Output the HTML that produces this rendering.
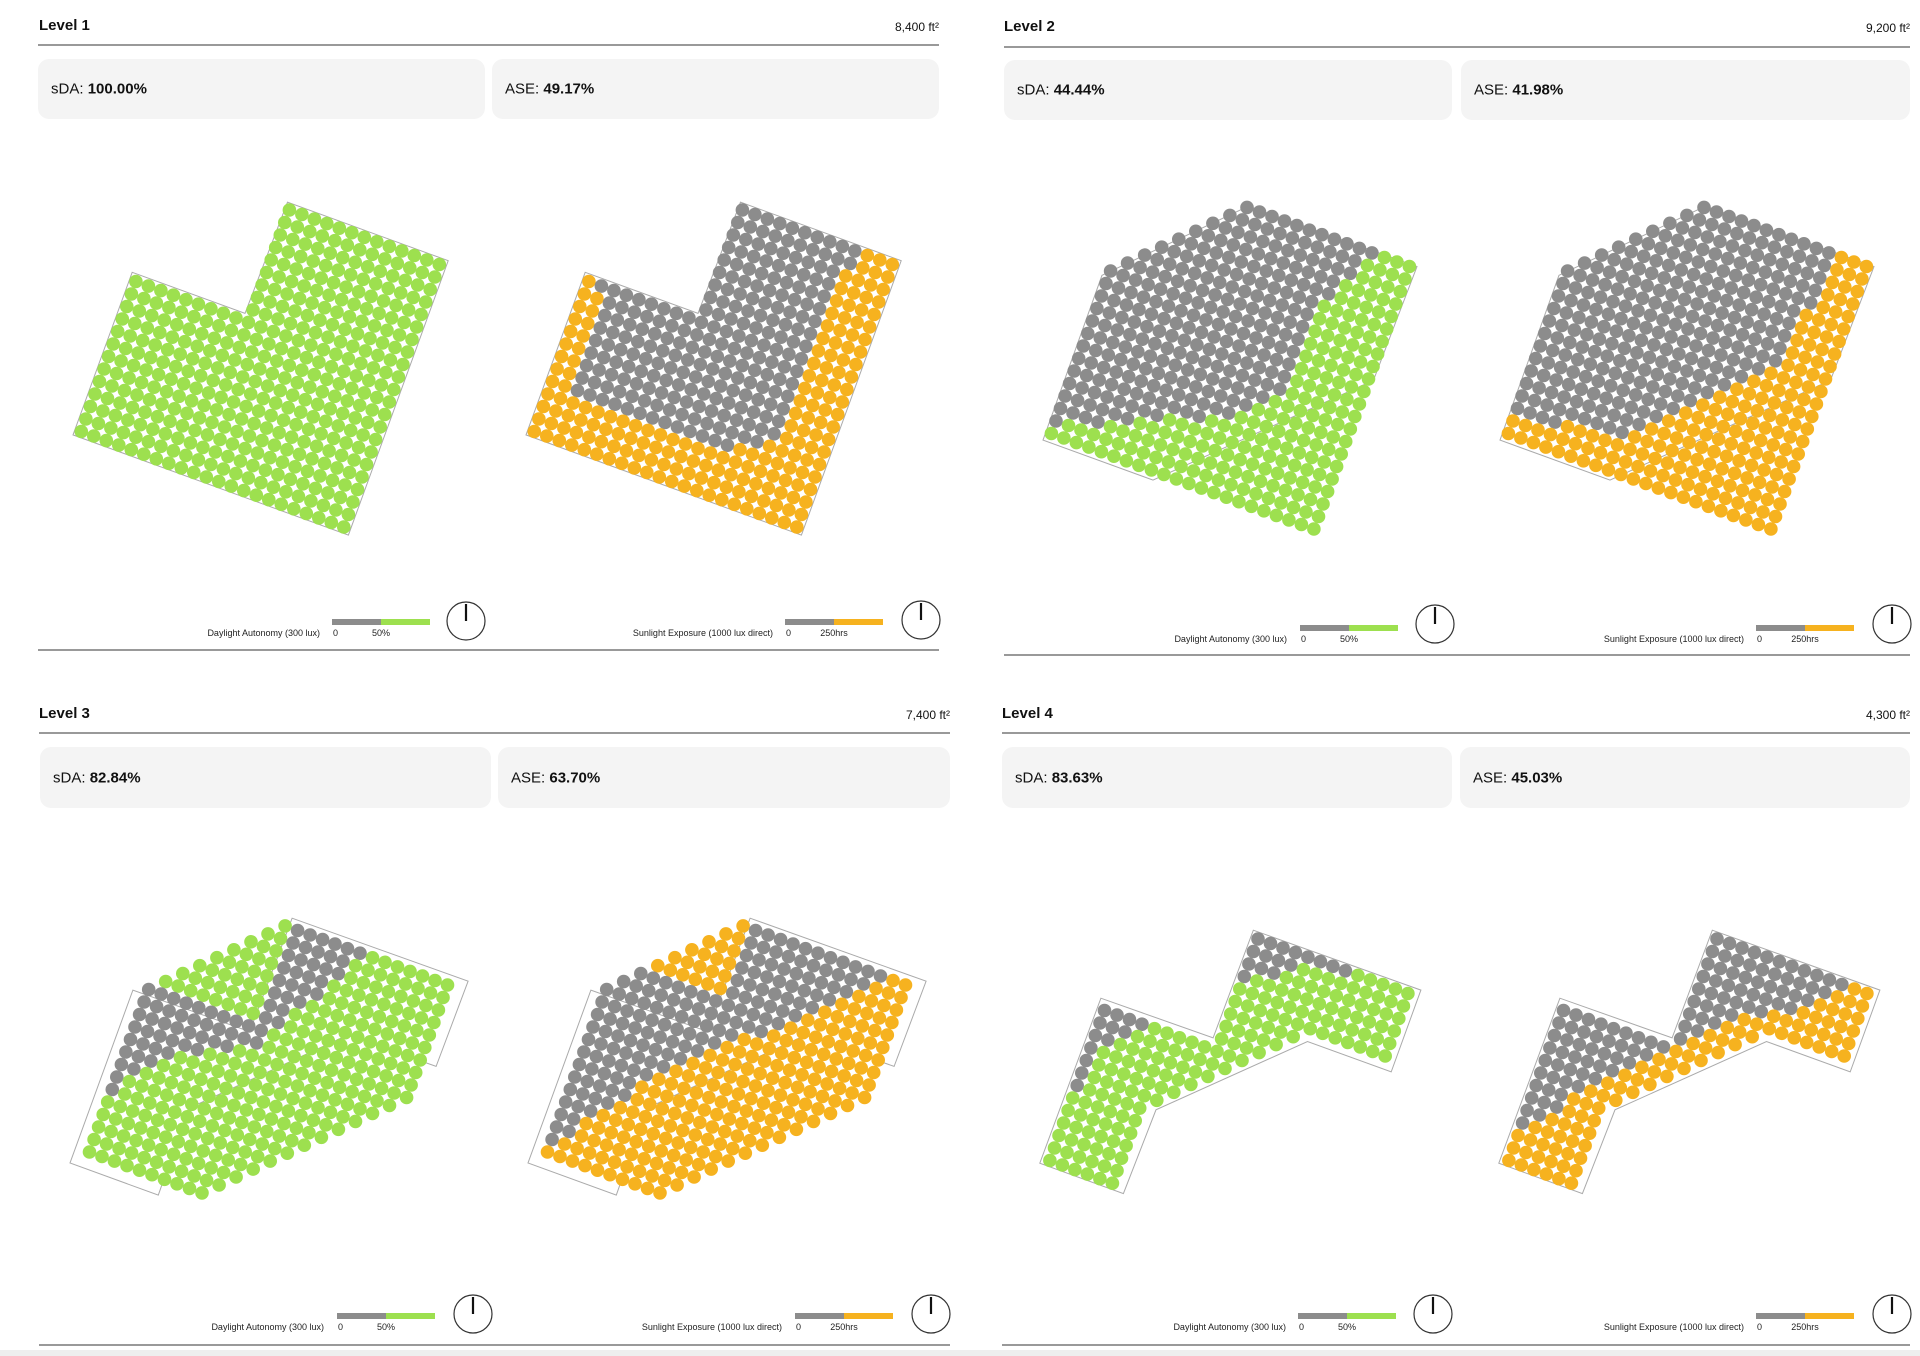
<!DOCTYPE html>
<html><head><meta charset="utf-8">
<style>
html,body{margin:0;padding:0;background:#fff;}
body{width:1920px;height:1356px;position:relative;overflow:hidden;font-family:"Liberation Sans",Arial,sans-serif;color:#111;}
.title{position:absolute;font-size:15px;font-weight:bold;line-height:18px;}
.area{position:absolute;font-size:12px;line-height:14px;text-align:right;width:200px;}
.hr{position:absolute;height:2px;background:#999;}
.box{position:absolute;background:#f4f4f4;border-radius:11px;font-size:15px;}
.box span.lbl{position:absolute;left:13px;top:50%;transform:translateY(-50%);white-space:nowrap;}
.box b{font-weight:bold;}
svg{position:absolute;left:0;top:0;}
.foot{position:absolute;left:0;top:1350px;width:1920px;height:6px;background:#eee;}
</style></head>
<body>

<div class="title" style="left:39px;top:17px">Level 1</div>
<div class="area" style="left:739px;top:20px">8,400 ft²</div>
<div class="hr" style="left:38px;top:44px;width:901px"></div>
<div class="box" style="left:38px;top:59px;width:447px;height:60px"><span class="lbl">sDA: <b>100.00%</b></span></div>
<div class="box" style="left:492px;top:59px;width:447px;height:60px"><span class="lbl">ASE: <b>49.17%</b></span></div>
<div class="hr" style="left:38px;top:649px;width:901px"></div>

<div class="title" style="left:1004px;top:18px">Level 2</div>
<div class="area" style="left:1710px;top:21px">9,200 ft²</div>
<div class="hr" style="left:1004px;top:46px;width:906px"></div>
<div class="box" style="left:1004px;top:60px;width:448px;height:60px"><span class="lbl">sDA: <b>44.44%</b></span></div>
<div class="box" style="left:1461px;top:60px;width:449px;height:60px"><span class="lbl">ASE: <b>41.98%</b></span></div>
<div class="hr" style="left:1004px;top:654px;width:906px"></div>

<div class="title" style="left:39px;top:705px">Level 3</div>
<div class="area" style="left:750px;top:708px">7,400 ft²</div>
<div class="hr" style="left:39px;top:732px;width:911px"></div>
<div class="box" style="left:40px;top:747px;width:451px;height:61px"><span class="lbl">sDA: <b>82.84%</b></span></div>
<div class="box" style="left:498px;top:747px;width:452px;height:61px"><span class="lbl">ASE: <b>63.70%</b></span></div>
<div class="hr" style="left:39px;top:1344px;width:911px"></div>

<div class="title" style="left:1002px;top:705px">Level 4</div>
<div class="area" style="left:1710px;top:708px">4,300 ft²</div>
<div class="hr" style="left:1002px;top:732px;width:908px"></div>
<div class="box" style="left:1002px;top:747px;width:450px;height:61px"><span class="lbl">sDA: <b>83.63%</b></span></div>
<div class="box" style="left:1460px;top:747px;width:450px;height:61px"><span class="lbl">ASE: <b>45.03%</b></span></div>
<div class="hr" style="left:1002px;top:1344px;width:908px"></div>

<div class="foot"></div>

<svg id="plans" width="1920" height="1356" font-family="Liberation Sans, Arial, sans-serif"></svg>

<script>
const l1ShapeStart=[9,9,9,9,9,9,9,9,9,0,0,0,0,0,0,0,0,0,0,0,0,0];
const l1ShapeEnd=[21,21,21,21,21,21,21,21,21,21,21,21,21,21,21,21,21,21,21,21,21,21];
const l1DaGrayFrom=[-1,-1,-1,-1,-1,-1,-1,-1,-1,-1,-1,-1,-1,-1,-1,-1,-1,-1,-1,-1,-1,-1];
const l1DaGrayTo=[-1,-1,-1,-1,-1,-1,-1,-1,-1,-1,-1,-1,-1,-1,-1,-1,-1,-1,-1,-1,-1,-1];
const l1AseGrayFrom=[9,9,9,9,9,9,9,9,9,1,2,2,2,2,2,2,2,2,-1,-1,-1,-1];
const l1AseGrayTo=[18,18,17,17,17,17,17,17,17,17,17,17,17,17,17,17,16,14,-1,-1,-1,-1];

const l2ShapeStart=[8,7,6,5,4,3,2,1,0,0,0,0,0,0,0,0,0,0,0,0,0,0];
const l2ShapeEnd=[21,21,21,21,21,21,21,21,21,21,21,21,21,21,21,21,21,21,21,21,21,21];
const l2DaGrayFrom=[8,7,6,5,4,3,2,1,0,0,0,0,0,0,0,0,0,0,0,0,0,-1];
const l2DaGrayTo=[18,17,17,16,16,15,15,15,15,15,15,15,15,14,13,12,10,7,5,3,0,-1];
const l2AseGrayFrom=[8,7,6,5,4,3,2,1,0,0,0,0,0,0,0,0,0,0,0,0,-1,-1];
const l2AseGrayTo=[18,18,18,18,18,17,17,17,17,17,16,15,14,13,12,11,10,9,8,3,-1,-1];

const l3ShapeStart=[8,7,6,5,4,3,2,1,0,0,0,0,0,0,0,0,0,0,0,0,0,0];
const l3ShapeEnd=[21,21,21,21,21,21,21,21,21,21,20,19,18,17,16,15,14,13,12,11,10,9];
const l3DaGrayFrom=[9,9,9,9,9,9,9,9,0,0,0,0,0,0,0,0,0,-1,-1,-1,-1,-1];
const l3DaGrayTo=[14,13,13,12,12,11,10,10,9,9,7,5,3,2,1,0,0,-1,-1,-1,-1,-1];
const l3AseGrayFrom=[9,9,9,9,9,9,2,1,0,0,0,0,0,0,0,0,0,0,0,0,0,-1];
const l3AseGrayTo=[19,18,17,16,15,14,13,12,10,9,8,7,6,5,4,4,3,2,1,1,0,-1];

const l4ShapeStart=[9,9,9,9,9,9,9,9,9,0,0,0,0,0,0,0,0,0,0,0,0,0];
const l4ShapeEnd=[21,21,21,21,21,21,14,13,12,11,10,9,8,7,6,5,5,5,5,5,5,5];
const l4DaGrayFrom=[9,9,9,9,-1,-1,-1,-1,-1,0,0,0,0,0,0,0,-1,-1,-1,-1,-1,-1];
const l4DaGrayTo=[16,12,11,9,-1,-1,-1,-1,-1,3,2,1,0,0,0,0,-1,-1,-1,-1,-1,-1];
const l4AseGrayFrom=[9,9,9,9,9,9,9,9,9,0,0,0,0,0,0,0,0,0,0,-1,-1,-1];
const l4AseGrayTo=[19,18,17,16,14,12,11,10,9,8,7,6,5,4,3,2,2,1,0,-1,-1,-1];

const NS='http://www.w3.org/2000/svg';
const svg=document.getElementById('plans');
const S=13.3, R=6.8, ANG=20*Math.PI/180;
const UX=Math.cos(ANG), UY=Math.sin(ANG), VX=-Math.sin(ANG), VY=Math.cos(ANG);
const GREEN='#9de04f', ORANGE='#f6b21f', GRAY='#8c8c8c';

function pt(T,bu,bv){return [T[0]+bu*UX+bv*VX, T[1]+bu*UY+bv*VY];}
function mk(tag,attrs){const e=document.createElementNS(NS,tag);for(const k in attrs)e.setAttribute(k,attrs[k]);return e;}

function drawOutline(T,poly,name){
  const pts=poly.map(p=>pt(T,p[0],p[1]).map(v=>v.toFixed(1)).join(',')).join(' ');
  const el=mk('polygon',{points:pts,fill:'none',stroke:'#aaa','stroke-width':'1'});
  
  
  svg.appendChild(el);
}
function drawGrid(T,shapeStart,shapeEnd,grayFrom,grayTo,color,name){
  const g=mk('g',{});
  
  
  for(let r=0;r<shapeStart.length;r++){
    for(let c=shapeStart[r];c<=shapeEnd[r];c++){
      const p=pt(T,(c+0.5)*S,(r+0.5)*S);
      const isGray=grayFrom[r]>=0 && c>=grayFrom[r] && c<=grayTo[r];
      const d=mk('circle',{cx:p[0].toFixed(1),cy:p[1].toFixed(1),r:R,fill:isGray?GRAY:color});
      
      
      g.appendChild(d);
    }
  }
  svg.appendChild(g);
}

const outlineL1=[[0,119],[120,119],[122,0],[293,0],[293,292],[0,292]];
const outlineL2=[[0,120],[114,5],[293,4],[291,126],[118,295],[1,295]];
const outlineL3=[[117,-3],[304,-4],[303,87],[209,88],[85,211],[86,303],[-8,303],[-8,119],[116,118]];
const outlineL4=[[119,0],[297,-1],[297,86],[208,86],[89,202],[87,292],[-2,292],[-1,116],[118,115]];

function plan(T,dx,poly,ss,se,dgf,dgt,agf,agt,lvl){
  const T2=[T[0]+dx,T[1]];
  drawOutline(T,poly,'level-'+lvl+'-da-outline');
  drawGrid(T,ss,se,dgf,dgt,GREEN,'level-'+lvl+'-daylight-autonomy-plan');
  drawOutline(T2,poly,'level-'+lvl+'-ase-outline');
  drawGrid(T2,ss,se,agf,agt,ORANGE,'level-'+lvl+'-sunlight-exposure-plan');
}
plan([172.9,160.5],453,outlineL1,l1ShapeStart,l1ShapeEnd,l1DaGrayFrom,l1DaGrayTo,l1AseGrayFrom,l1AseGrayTo,1);
plan([1143,162.5],457,outlineL2,l2ShapeStart,l2ShapeEnd,l2DaGrayFrom,l2DaGrayTo,l2AseGrayFrom,l2AseGrayTo,2);
plan([181.1,881],458,outlineL3,l3ShapeStart,l3ShapeEnd,l3DaGrayFrom,l3DaGrayTo,l3AseGrayFrom,l3AseGrayTo,3);
plan([1141.5,889.5],459,outlineL4,l4ShapeStart,l4ShapeEnd,l4DaGrayFrom,l4DaGrayTo,l4AseGrayFrom,l4AseGrayTo,4);

function legend(textRight,barX,barY,label,tick,color,cx,cy,name){
  const g=mk('g',{});
  
  
  const t=mk('text',{x:textRight,y:barY+14,'font-size':'9','text-anchor':'end',fill:'#222'});
  t.textContent=label; g.appendChild(t);
  g.appendChild(mk('rect',{x:barX,y:barY-3,width:49,height:6,fill:GRAY}));
  g.appendChild(mk('rect',{x:barX+49,y:barY-3,width:49,height:6,fill:color}));
  const t0=mk('text',{x:barX+1,y:barY+14,'font-size':'9',fill:'#222'}); t0.textContent='0'; g.appendChild(t0);
  const t1=mk('text',{x:barX+49,y:barY+14,'font-size':'9','text-anchor':'middle',fill:'#222'}); t1.textContent=tick; g.appendChild(t1);
  svg.appendChild(g);
  const cmp=mk('g',{});
  
  
  cmp.appendChild(mk('circle',{cx:cx,cy:cy,r:19,fill:'#fff',stroke:'#333','stroke-width':'1.2'}));
  cmp.appendChild(mk('line',{x1:cx,y1:cy,x2:cx,y2:cy-17,stroke:'#111','stroke-width':'2.2'}));
  svg.appendChild(cmp);
}
legend(320,332,622,'Daylight Autonomy (300 lux)','50%',GREEN,466,621,'level-1-da-legend');
legend(773,785,622,'Sunlight Exposure (1000 lux direct)','250hrs',ORANGE,921,620,'level-1-ase-legend');
legend(1287,1300,628,'Daylight Autonomy (300 lux)','50%',GREEN,1435,624,'level-2-da-legend');
legend(1744,1756,628,'Sunlight Exposure (1000 lux direct)','250hrs',ORANGE,1892,624,'level-2-ase-legend');
legend(324,337,1316,'Daylight Autonomy (300 lux)','50%',GREEN,473,1314,'level-3-da-legend');
legend(782,795,1316,'Sunlight Exposure (1000 lux direct)','250hrs',ORANGE,931,1314,'level-3-ase-legend');
legend(1286,1298,1316,'Daylight Autonomy (300 lux)','50%',GREEN,1433,1314,'level-4-da-legend');
legend(1744,1756,1316,'Sunlight Exposure (1000 lux direct)','250hrs',ORANGE,1892,1314,'level-4-ase-legend');
</script>
</body></html>
